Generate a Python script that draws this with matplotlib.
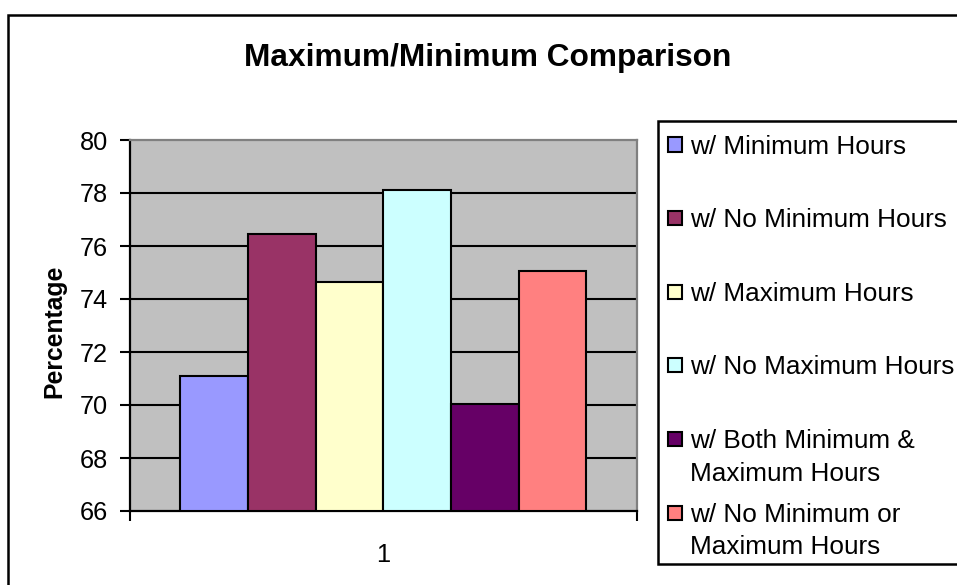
import matplotlib.pyplot as plt
from matplotlib.patches import Rectangle

plt.rcParams['font.family'] = ['Liberation Sans', 'DejaVu Sans']

labels = ['w/ Minimum Hours', 'w/ No Minimum Hours', 'w/ Maximum Hours',
          'w/ No Maximum Hours', 'w/ Both Minimum &\nMaximum Hours',
          'w/ No Minimum or\nMaximum Hours']
values = [71.1, 76.45, 74.65, 78.1, 70.05, 75.05]
colors = ['#9999FF', '#993366', '#FFFFCC', '#CCFFFF', '#660066', '#FF8080']
yticks = [66, 68, 70, 72, 74, 76, 78, 80]
category = '1'

W, H = 957, 585
fig = plt.figure(figsize=(W / 100, H / 100), dpi=100)
ax = fig.add_axes([130 / W, 1 - 511 / H, 506.5 / W, 371 / H])
ax.set_facecolor('#C0C0C0')

width = 0.1337
for i, (v, c) in enumerate(zip(values, colors)):
    ax.bar(1 + (i - 2.5) * width, v - 66, width, bottom=66, color=c,
           edgecolor='black', linewidth=1.5, zorder=3)

ax.set_xlim(0.5, 1.5)
ax.set_ylim(66, 80)
ax.set_yticks(yticks)
ax.tick_params(axis='y', labelsize=18.3, length=7.5, width=1.5, pad=8.5, direction='out')
for y in yticks[1:-1]:
    ax.axhline(y, color='black', lw=1.5, zorder=1)

ax.set_xticks([0.5, 1.5])
ax.set_xticklabels(['', ''])
ax.tick_params(axis='x', length=7, width=1.5, direction='out')
ax.set_xticks([1], minor=True)
ax.set_xticklabels([category], minor=True)
ax.tick_params(axis='x', which='minor', length=0, labelsize=18.3, pad=23)

for s in ['left', 'bottom']:
    ax.spines[s].set_color('black')
    ax.spines[s].set_linewidth(1.6)
for s in ['top', 'right']:
    ax.spines[s].set_color('#808080')
    ax.spines[s].set_linewidth(1.6)

fig.text(487.5 / W, 1 - 58 / H, 'Maximum/Minimum Comparison', ha='center', va='center',
         fontsize=22.8, fontweight='bold')
fig.text(54 / W, 1 - 331 / H, 'Percentage', ha='center', va='center', rotation=90,
         fontsize=17.8, fontweight='bold')

# chart border
fig.add_artist(Rectangle((8 / W, -0.1), 1.2, 1.1 - 15 / H, transform=fig.transFigure,
                         fill=False, edgecolor='black', linewidth=1.8))
# legend
fig.add_artist(Rectangle((658 / W, 1 - 564 / H), 0.5, 443 / H, transform=fig.transFigure,
                         facecolor='white', edgecolor='black', linewidth=1.8))
for i, (lab, c) in enumerate(zip(labels, colors)):
    yc = 144.5 + i * 73.6
    fig.add_artist(Rectangle((668 / W, 1 - (yc + 7) / H), 14 / W, 14 / H,
                             transform=fig.transFigure, facecolor=c,
                             edgecolor='black', linewidth=1.5))
    for j, line in enumerate(lab.split('\n')):
        fig.text(690 / W, 1 - (yc + 9 + j * 33) / H, line, ha='left', va='baseline',
                 fontsize=18.8)

fig.savefig('out.png', dpi=100)
